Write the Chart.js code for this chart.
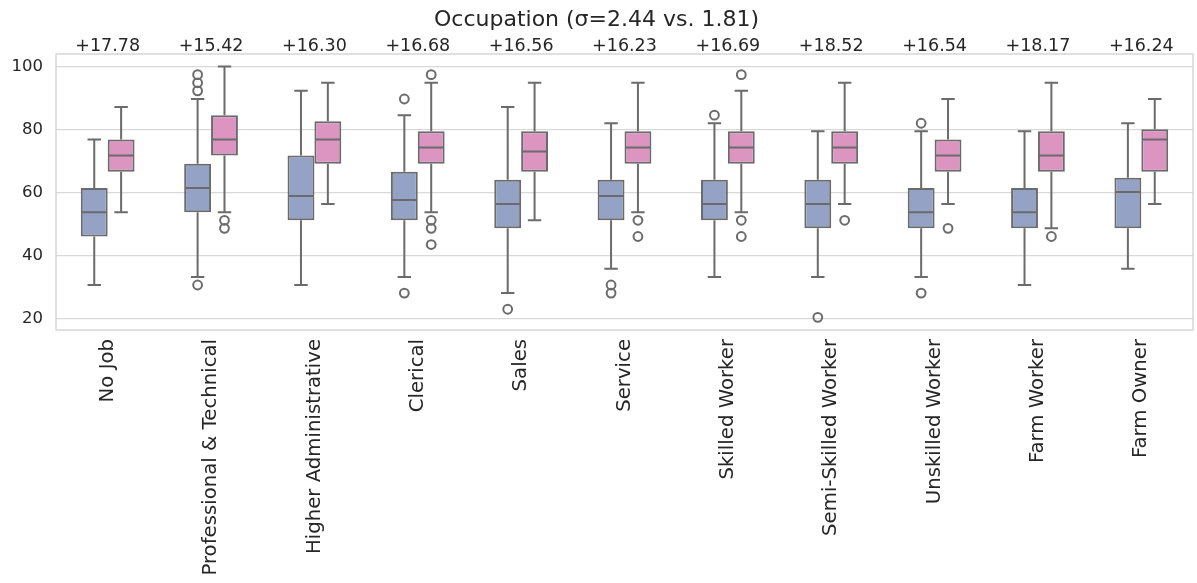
<!DOCTYPE html>
<html>
<head>
<meta charset="utf-8">
<script src="https://cdn.jsdelivr.net/npm/chart.js@4/dist/chart.umd.min.js"></script>
<style>
  html, body { margin: 0; padding: 0; background: #fff; }
  #wrap { width: 1197px; height: 583px; position: relative; }
</style>
</head>
<body>
<div id="wrap"><canvas id="chart"></canvas></div>
<script>
// =======================
// Datos
const categories = [
  "No Job",
  "Professional & Technical",
  "Higher Administrative",
  "Clerical",
  "Sales",
  "Service",
  "Skilled Worker",
  "Semi-Skilled Worker",
  "Unskilled Worker",
  "Farm Worker",
  "Farm Owner",
];
const diffLabels = [
  "+17.78", "+15.42", "+16.30", "+16.68", "+16.56", "+16.23",
  "+16.69", "+18.52", "+16.54", "+18.17", "+16.24",
];
const yTicks = [20, 40, 60, 80, 100];

// grupo azul
const lowA = [30.77, 33.33, 30.77, 33.33, 28.21, 35.9, 33.33, 33.33, 33.33, 30.77, 35.9];
const q1A = [46.15, 53.85, 51.28, 51.28, 48.72, 51.28, 51.28, 48.72, 48.72, 48.72, 48.72];
const medA = [53.85, 61.54, 58.97, 57.69, 56.41, 58.97, 56.41, 56.41, 53.85, 53.85, 60.26];
const q3A = [61.54, 69.23, 71.79, 66.67, 64.1, 64.1, 64.1, 64.1, 61.54, 61.54, 64.74];
const highA = [76.92, 89.74, 92.31, 84.62, 87.18, 82.05, 82.05, 79.49, 79.49, 79.49, 82.05];
const outA = [
  [], [97.44, 94.87, 92.31, 30.77], [], [89.74, 28.21], [23.08],
  [30.77, 28.21], [84.62], [20.51], [82.05, 28.21], [], [],
];

// grupo rosa
const lowB = [53.85, 53.85, 56.41, 53.85, 51.28, 53.85, 53.85, 56.41, 56.41, 48.72, 56.41];
const q1B = [66.67, 71.79, 69.23, 69.23, 66.67, 69.23, 69.23, 69.23, 66.67, 66.67, 66.67];
const medB = [71.79, 76.92, 76.92, 74.36, 73.08, 74.36, 74.36, 74.36, 71.79, 71.79, 76.92];
const q3B = [76.92, 84.62, 82.69, 79.49, 79.49, 79.49, 79.49, 79.49, 76.92, 79.49, 80.13];
const highB = [87.18, 100, 94.87, 94.87, 94.87, 94.87, 92.31, 94.87, 89.74, 94.87, 89.74];
const outB = [
  [], [51.28, 48.72], [], [97.44, 51.28, 48.72, 43.59], [],
  [51.28, 46.15], [97.44, 51.28, 46.15], [51.28], [48.72], [46.15], [],
];

const groups = [
  { low: lowA, q1: q1A, med: medA, q3: q3A, high: highA, out: outA, color: "#93a2c5" },
  { low: lowB, q1: q1B, med: medB, q3: q3B, high: highB, out: outB, color: "#dc94c0" },
];

const lineColor = "#6b6b6b";
const textColor = "#262626";
const FONT = "'DejaVu Sans', sans-serif";
const LW = 2;

// =======================
// Plugin: marco, bigotes, medianas y atípicos
const boxPlugin = {
  id: "boxExtras",
  beforeDatasetsDraw(chart) {
    const { ctx, chartArea: a } = chart;
    ctx.save();
    ctx.strokeStyle = "#d0d0d0";
    ctx.lineWidth = 1.3;
    ctx.strokeRect(a.left, a.top, a.right - a.left, a.bottom - a.top);
    ctx.restore();
  },
  afterDatasetsDraw(chart) {
    const { ctx } = chart;
    const y = chart.scales.y;
    ctx.save();
    ctx.strokeStyle = lineColor;
    ctx.lineWidth = LW;
    groups.forEach((g, d) => {
      const meta = chart.getDatasetMeta(d);
      meta.data.forEach((bar, i) => {
        const x = bar.x;
        const w = bar.width;
        const pLow = y.getPixelForValue(g.low[i]);
        const pQ1 = y.getPixelForValue(g.q1[i]);
        const pMed = y.getPixelForValue(g.med[i]);
        const pQ3 = y.getPixelForValue(g.q3[i]);
        const pHigh = y.getPixelForValue(g.high[i]);
        ctx.beginPath();
        // bigotes
        ctx.moveTo(x, pQ3);
        ctx.lineTo(x, pHigh);
        ctx.moveTo(x, pQ1);
        ctx.lineTo(x, pLow);
        // topes
        ctx.moveTo(x - w / 4, pHigh);
        ctx.lineTo(x + w / 4, pHigh);
        ctx.moveTo(x - w / 4, pLow);
        ctx.lineTo(x + w / 4, pLow);
        // mediana
        ctx.moveTo(x - w / 2 + 1, pMed);
        ctx.lineTo(x + w / 2 - 1, pMed);
        ctx.stroke();
        // atípicos
        g.out[i].forEach((v) => {
          ctx.beginPath();
          ctx.arc(x, y.getPixelForValue(v), 4.4, 0, Math.PI * 2);
          ctx.stroke();
        });
      });
    });
    ctx.restore();
  },
};

// =======================
// Gráfico
new Chart(document.getElementById("chart"), {
  type: "bar",
  data: {
    labels: categories,
    datasets: groups.map((g, d) => ({
      label: d === 0 ? "A" : "B",
      data: g.q1.map((v, i) => [v, g.q3[i]]),
      backgroundColor: g.color,
      borderColor: lineColor,
      borderWidth: LW,
      borderSkipped: false,
      categoryPercentage: 0.52,
      barPercentage: 1.0,
      xAxisID: "x",
    })),
  },
  options: {
    responsive: true,
    maintainAspectRatio: false,
    animation: false,
    layout: { padding: { left: 0, right: 4, top: 0, bottom: 0 } },
    plugins: {
      legend: { display: false },
      tooltip: { enabled: false },
      title: {
        display: true,
        text: "Occupation (σ=2.44 vs. 1.81)",
        color: textColor,
        font: { family: FONT, size: 22, weight: "normal" },
        padding: { top: 7.5, bottom: 1.5 },
      },
    },
    scales: {
      x: {
        type: "category",
        position: "bottom",
        grid: { display: false, drawTicks: false },
        border: { display: false },
        afterFit: (scale) => {
          scale.height = 253;
        },
        ticks: {
          color: textColor,
          font: { family: FONT, size: 19.7 },
          minRotation: 90,
          maxRotation: 90,
          autoSkip: false,
          padding: 9,
        },
      },
      x2: {
        type: "category",
        position: "top",
        labels: diffLabels,
        offset: true,
        grid: { display: false, drawTicks: false },
        border: { display: false },
        afterFit: (scale) => {
          scale.height = 18.6;
        },
        ticks: {
          color: textColor,
          font: { family: FONT, size: 17.5 },
          maxRotation: 0,
          autoSkip: false,
          padding: -2.5,
        },
      },
      y: {
        min: 16.5,
        max: 104,
        afterBuildTicks: (scale) => {
          scale.ticks = yTicks.map((v) => ({ value: v }));
        },
        afterFit: (scale) => {
          scale.width = 56;
        },
        grid: { color: "#d9d9d9", lineWidth: 1.3, drawTicks: false },
        border: { display: false },
        ticks: {
          color: textColor,
          font: { family: FONT, size: 16.5 },
          padding: 13,
        },
      },
    },
  },
  plugins: [boxPlugin],
});
</script>
</body>
</html>
